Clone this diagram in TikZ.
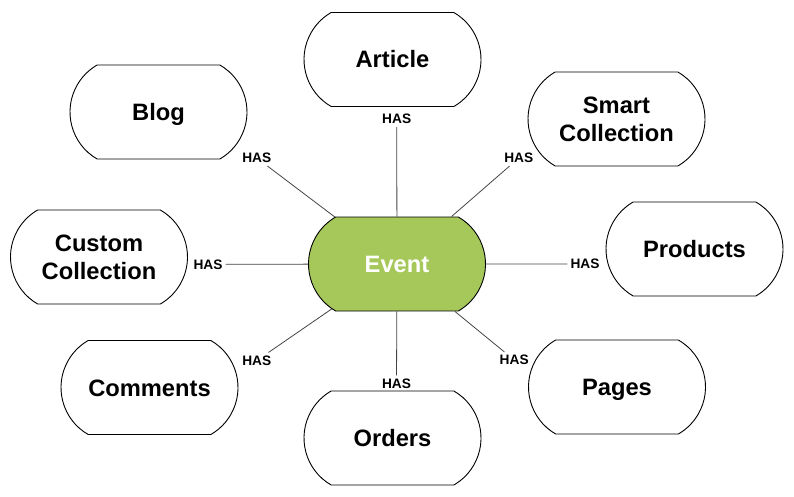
\documentclass[tikz,border=0pt]{standalone}
\usepackage{fontspec}
\setmainfont{Liberation Sans}
\usetikzlibrary{shapes.misc}
\definecolor{evgreen}{HTML}{A6C85B}
\definecolor{linegray}{HTML}{444444}
\tikzset{
  entity/.style={rounded rectangle, rounded rectangle arc length=120, draw=black, line width=0.9pt,
    minimum width=177pt, minimum height=94pt, inner sep=0pt, fill=white,
    font=\fontsize{23.7}{28.3}\selectfont\bfseries, align=center,
    text height=17pt, text depth=0pt},
  twoline/.style={text height=45.3pt},
  center/.style={entity, fill=evgreen, text=white},
  haslabel/.style={font=\fontsize{13.7}{16}\selectfont\bfseries, inner sep=3pt},
  link/.style={draw=linegray, line width=0.8pt}
}
\begin{document}
\begin{tikzpicture}[x=1pt,y=-1pt]
\useasboundingbox (0,0) rectangle (794,497);
\node[center] (ev) at (397,264) {Event};
\node[entity] (article) at (392.5,59.5) {Article};
\node[entity] (blog) at (158.5,112) {Blog};
\node[entity, twoline] (smart) at (616.5,119) {Smart\\Collection};
\node[entity, twoline] (custom) at (99,257) {Custom\\Collection};
\node[entity] (products) at (694.5,249) {Products};
\node[entity] (comments) at (149.5,387.5) {Comments};
\node[entity] (pages) at (617,387) {Pages};
\node[entity] (orders) at (392.5,438) {Orders};

\node[haslabel] (la) at (396.7,119) {HAS};
\node[haslabel] (ls) at (518.8,158) {HAS};
\node[haslabel] (lp) at (585,264) {HAS};
\node[haslabel] (lb) at (256.8,158) {HAS};
\node[haslabel] (lc) at (208,264.3) {HAS};
\node[haslabel] (lm) at (256.8,360.5) {HAS};
\node[haslabel] (lo) at (396.5,383.3) {HAS};
\node[haslabel] (lg) at (514.2,360) {HAS};

\foreach \l in {la,ls,lp,lb,lc,lm,lo,lg}{\draw[link] (ev) -- (\l);}
\end{tikzpicture}
\end{document}
